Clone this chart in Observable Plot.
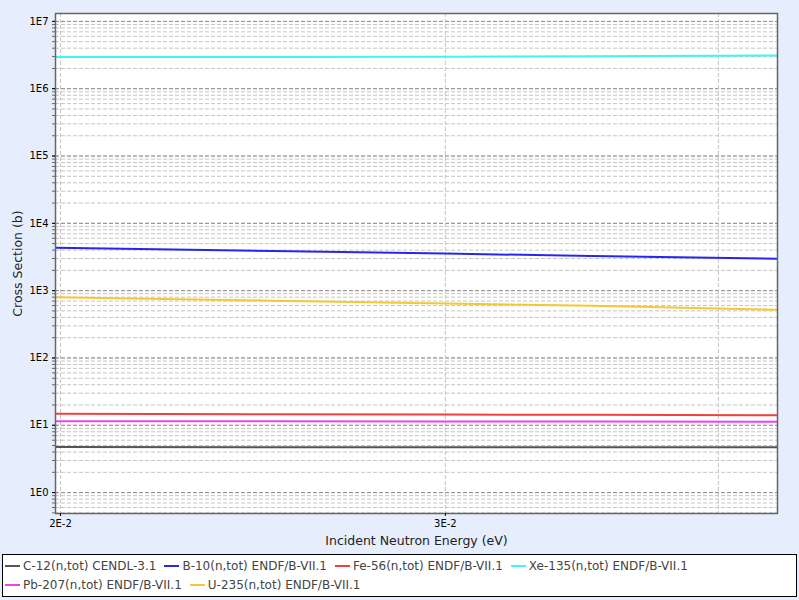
<!DOCTYPE html>
<html>
<head>
<meta charset="utf-8">
<script src="https://cdn.jsdelivr.net/npm/d3@7"></script>
<script src="https://cdn.jsdelivr.net/npm/@observablehq/plot@0.6"></script>
<style>
  html, body { margin: 0; padding: 0; background: #e6eefd; }
  body { width: 799px; height: 600px; overflow: hidden; font-family: "DejaVu Sans", sans-serif; }
  #legend {
    position: absolute; left: 2px; top: 554px; width: 793px; height: 40px;
    background: #fff; border: 1px solid #000; box-sizing: content-box;
    display: flex; flex-wrap: wrap; align-content: flex-start;
    padding-top: 1px; font-size: 12px; color: #444;
  }
  .item { display: flex; align-items: center; height: 19px; margin-right: 6px; white-space: nowrap; }
  .swatch { width: 15px; height: 2px; margin-left: 2px; margin-right: 3px; }
</style>
</head>
<body>
<div id="chart"></div>
<div id="legend"></div>
<script>
// ---- data ----
const energy = [0.0199, 0.025, 0.03, 0.035, 0.0426];            // eV
const seriesNames = [
  "C-12(n,tot) CENDL-3.1",
  "B-10(n,tot) ENDF/B-VII.1",
  "Fe-56(n,tot) ENDF/B-VII.1",
  "Xe-135(n,tot) ENDF/B-VII.1",
  "Pb-207(n,tot) ENDF/B-VII.1",
  "U-235(n,tot) ENDF/B-VII.1"
];
const c12   = [4.74, 4.73, 4.73, 4.72, 4.72];
const b10   = [4340, 3870, 3550, 3280, 2980];
const fe56  = [14.8, 14.55, 14.4, 14.3, 14.1];
const xe135 = [2.95e6, 2.96e6, 2.99e6, 3.03e6, 3.12e6];
const pb207 = [11.5, 11.45, 11.4, 11.35, 11.3];
const u235  = [800, 710, 645, 595, 520];
const seriesColors = ["#555555", "#2626f0", "#f04040", "#3ff5f5", "#f040f0", "#f5c832"];

const xTicks = [0.02, 0.03];
const xTickLabels = ["2E-2", "3E-2"];
const xGrid = [0.02, 0.03, 0.04];
const yTicks = [1, 10, 100, 1000, 1e4, 1e5, 1e6, 1e7];
const yTickLabels = ["1E0", "1E1", "1E2", "1E3", "1E4", "1E5", "1E6", "1E7"];

// ---- build table ----
const allValues = [c12, b10, fe56, xe135, pb207, u235];
const rows = [];
seriesNames.forEach((name, i) => {
  energy.forEach((e, j) => rows.push({series: name, energy: e, cs: allValues[i][j]}));
});

const yDomain = [0.489, 1.31e7];
const xDomain = [0.019895, 0.04257];

const yMinor = [];
for (let k = -1; k <= 7; k++) {
  for (let m = 1; m <= 9; m++) {
    const v = m * Math.pow(10, k);
    if (v >= yDomain[0] && v <= yDomain[1]) yMinor.push(v);
  }
}

const chart = Plot.plot({
  width: 799,
  height: 550,
  marginLeft: 55,
  marginRight: 22,
  marginTop: 13,
  marginBottom: 37,
  style: {background: "transparent", fontFamily: "DejaVu Sans, sans-serif", fontSize: "10px", color: "#000"},
  x: {type: "log", domain: xDomain, label: null},
  y: {type: "log", domain: yDomain, label: null},
  color: {domain: seriesNames, range: seriesColors},
  marks: [
    Plot.frame({fill: "white", stroke: null}),
    Plot.ruleY(yMinor, {stroke: "#c4c4c4", strokeDasharray: "4,2", strokeWidth: 1}),
    Plot.ruleY(yTicks, {stroke: "#909090", strokeDasharray: "4,2", strokeWidth: 1}),
    Plot.ruleX(xGrid, {stroke: "#c4c4c4", strokeDasharray: "4,2", strokeWidth: 1}),
    Plot.line(rows, {x: "energy", y: "cs", z: "series", stroke: "series", strokeWidth: 2, clip: true}),
    Plot.frame({stroke: "#666", strokeWidth: 1.5}),
    Plot.axisY({ticks: yMinor, tickSize: 3, tickFormat: () => "", stroke: "#666", label: null}),
    Plot.axisY({
      ticks: yTicks, tickSize: 3, tickPadding: 4,
      tickFormat: d => yTickLabels[yTicks.indexOf(d)],
      fontSize: 10,
      label: "Cross Section (b)", labelAnchor: "center", labelArrow: "none", labelOffset: 42
    }),
    Plot.axisX({
      ticks: xTicks, tickSize: 3, tickPadding: 3,
      tickFormat: d => xTickLabels[xTicks.indexOf(d)],
      fontSize: 10,
      label: "Incident Neutron Energy (eV)", labelAnchor: "center", labelArrow: "none", labelOffset: 31
    })
  ]
});
// axis titles larger
chart.querySelectorAll("g[aria-label='y-axis label'] text, g[aria-label='x-axis label'] text").forEach(t => {
  t.setAttribute("font-size", "12.5px");
  t.style.fontSize = "12.5px";
  t.setAttribute("fill", "#222");
});
document.getElementById("chart").appendChild(chart);

// ---- legend ----
const legend = document.getElementById("legend");
seriesNames.forEach((name, i) => {
  const item = document.createElement("div");
  item.className = "item";
  const sw = document.createElement("span");
  sw.className = "swatch";
  sw.style.background = seriesColors[i];
  const tx = document.createElement("span");
  tx.textContent = name;
  item.appendChild(sw);
  item.appendChild(tx);
  legend.appendChild(item);
});
</script>
</body>
</html>
